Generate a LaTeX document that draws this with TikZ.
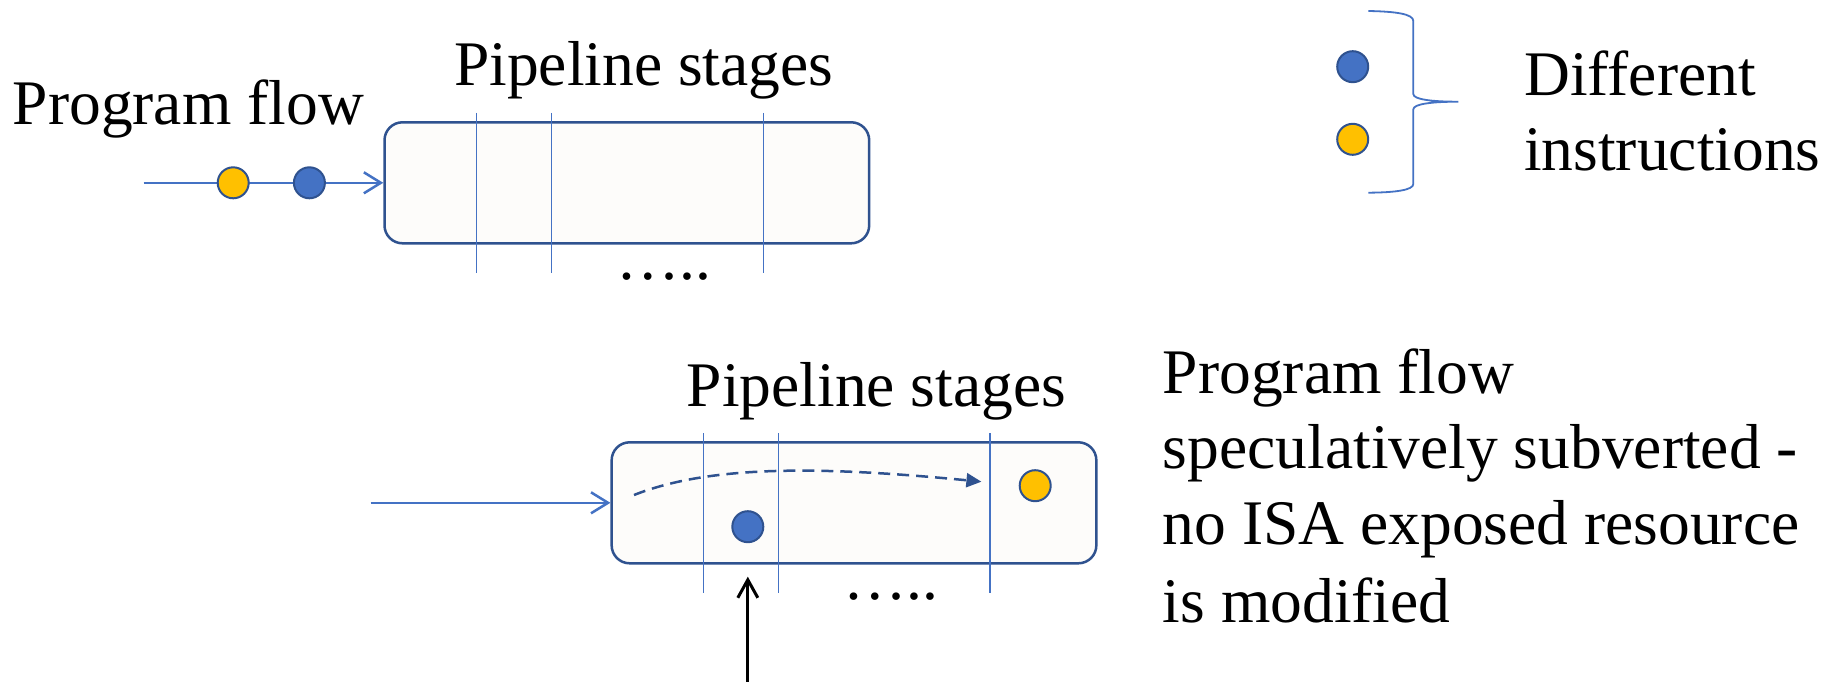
\documentclass[tikz,border=0pt]{standalone}
\usepackage{fontspec}
\setmainfont{Liberation Serif}
\usetikzlibrary{arrows.meta}
\definecolor{accent}{HTML}{4472C4}
\definecolor{dkblue}{HTML}{2F528F}
\definecolor{gold}{HTML}{FFC000}
\definecolor{cream}{HTML}{FDFCFA}
\begin{document}
\begin{tikzpicture}[x=1pt,y=-1pt,
  lbl/.style={font=\fontsize{63.5}{76.5}\selectfont, inner sep=0pt, anchor=base west},
  stagebox/.style={draw=dkblue, fill=cream, line width=2.5pt, rounded corners=18pt,
    minimum width=484.7pt, minimum height=121pt, inner sep=0pt},
  instr/.style={circle, draw=dkblue, line width=2pt, minimum size=31pt, inner sep=0pt},
  blueinstr/.style={instr, fill=accent},
  goldinstr/.style={instr, fill=gold},
  divider/.style={accent, line width=1.3pt},
  flow/.style={accent, line width=2.5pt, -{Straight Barb[length=17pt,width=21pt]}},
  bracestyle/.style={accent, line width=1.8pt},
  spec/.style={dkblue, line width=2.5pt, dash pattern=on 12pt off 7pt,
    -{Triangle[length=15pt,width=14pt]}},
  pointer/.style={black, line width=3pt, -{Straight Barb[length=18pt,width=20pt]}}
]
\useasboundingbox (0,0) rectangle (1837,682);
\fill[white] (0,0) rectangle (1837,682);

% ---------- top pipeline ----------
\node[lbl] (pf1) at (12.7,125) {Program flow};
\node[lbl] (ps1) at (454,86) {Pipeline stages};
\node[stagebox] (box1) at (626.85,182.8) {};
\draw[divider] (476.7,113) -- (476.7,273);
\draw[divider] (551.7,113) -- (551.7,273);
\draw[divider] (763.3,113) -- (763.3,273);
\node[lbl] (dots1) at (616,279) {…..};
\coordinate (in1) at (143.6,182.8);
\draw[flow] (in1) -- (box1.west);
\node[goldinstr] (y1) at (233.2,182.8) {};
\node[blueinstr] (b1) at (309.4,182.8) {};

% ---------- legend ----------
\node[blueinstr] (lb) at (1352.7,66.7) {};
\node[goldinstr] (ly) at (1352.7,139.3) {};
\draw[bracestyle] (1368.3,11) .. controls (1396,11.5) and (1413.3,14) .. (1413.3,21)
  -- (1413.3,94) .. controls (1413.3,99.5) and (1432,101.7) .. (1458.3,101.7)
  .. controls (1432,101.7) and (1413.3,103.9) .. (1413.3,109.4)
  -- (1413.3,184) .. controls (1413.3,190) and (1396,192.5) .. (1368.3,192.7);
\node[lbl] (d1) at (1524,95.5) {Different};
\node[lbl] (d2) at (1524,171) {instructions};

% ---------- bottom pipeline ----------
\node[lbl] (ps2) at (686.7,406) {Pipeline stages};
\node[stagebox] (box2) at (854,502.8) {};
\draw[divider] (703.3,433) -- (703.3,593);
\draw[divider] (778.3,433) -- (778.3,593);
\draw[divider] (990,433) -- (990,593);
\node[lbl] (dots2) at (843,599) {…..};
\coordinate (in2) at (370.7,502.8);
\draw[flow] (in2) -- (box2.west);
\coordinate (dstart) at (634,495);
\coordinate (dend) at (981.4,481.7);
\draw[spec] (dstart) .. controls (710,465) and (820,466) .. (dend);
\node[blueinstr] (b2) at (747.8,526.7) {};
\node[goldinstr] (y2) at (1035.2,485.7) {};
\coordinate (upstart) at (747.8,682);
\coordinate (uptip) at (747.8,576.7);
\draw[pointer] (upstart) -- (uptip);

% ---------- right text ----------
\node[lbl] (r1) at (1162.7,393.3) {Program flow};
\node[lbl] (r2) at (1162.7,468.3) {speculatively subverted -};
\node[lbl] (r3) at (1162.7,544) {no ISA exposed resource};
\node[lbl] (r4) at (1162.7,622.7) {is modified};
\end{tikzpicture}
\end{document}
